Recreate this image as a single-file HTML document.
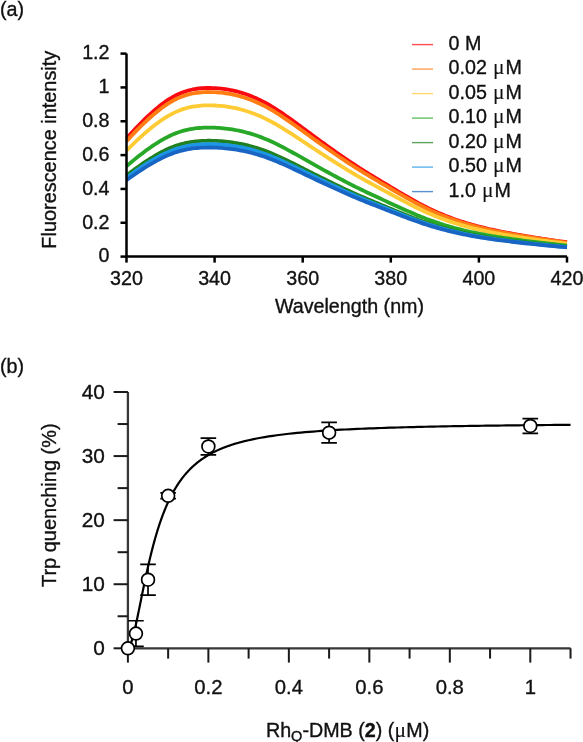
<!DOCTYPE html>
<html><head><meta charset="utf-8"><style>
html,body{margin:0;padding:0;background:#fff;width:583px;height:742px;overflow:hidden;position:relative}
</style></head><body>
<svg width="583" height="742" viewBox="0 0 583 742" style="position:absolute;left:0;top:0;will-change:transform">
<g font-family="Liberation Sans, sans-serif" font-size="19.7" fill="#111" stroke="#111" stroke-width="0.35">
<polyline points="126.50,138.46 128.70,136.00 130.91,133.58 133.11,131.19 135.31,128.84 137.51,126.53 139.72,124.26 141.92,122.03 144.12,119.85 146.32,117.71 148.53,115.62 150.73,113.59 152.93,111.62 155.13,109.70 157.34,107.85 159.54,106.07 161.74,104.36 163.94,102.72 166.14,101.17 168.35,99.70 170.55,98.32 172.75,97.02 174.95,95.82 177.16,94.72 179.36,93.70 181.56,92.78 183.76,91.95 185.97,91.21 188.17,90.55 190.37,89.98 192.57,89.49 194.78,89.08 196.98,88.74 199.18,88.47 201.38,88.26 203.59,88.11 205.79,88.02 207.99,87.97 210.19,87.98 212.40,88.04 214.60,88.13 216.80,88.27 219.00,88.46 221.21,88.68 223.41,88.94 225.61,89.25 227.81,89.60 230.02,89.99 232.22,90.43 234.42,90.91 236.62,91.44 238.83,92.01 241.03,92.64 243.23,93.31 245.44,94.03 247.64,94.80 249.84,95.62 252.04,96.48 254.25,97.40 256.45,98.36 258.65,99.38 260.85,100.45 263.06,101.57 265.26,102.74 267.46,103.96 269.66,105.23 271.87,106.54 274.07,107.90 276.27,109.29 278.47,110.72 280.67,112.18 282.88,113.67 285.08,115.19 287.28,116.73 289.49,118.30 291.69,119.88 293.89,121.48 296.09,123.09 298.30,124.70 300.50,126.33 302.70,127.96 304.90,129.60 307.11,131.23 309.31,132.86 311.51,134.49 313.71,136.11 315.91,137.73 318.12,139.34 320.32,140.94 322.52,142.53 324.73,144.11 326.93,145.69 329.13,147.27 331.33,148.83 333.53,150.39 335.74,151.94 337.94,153.49 340.14,155.02 342.35,156.54 344.55,158.05 346.75,159.55 348.95,161.03 351.15,162.50 353.36,163.96 355.56,165.40 357.76,166.83 359.97,168.24 362.17,169.64 364.37,171.02 366.57,172.39 368.77,173.75 370.98,175.10 373.18,176.44 375.38,177.78 377.58,179.11 379.79,180.44 381.99,181.77 384.19,183.10 386.39,184.42 388.60,185.75 390.80,187.07 393.00,188.39 395.20,189.71 397.41,191.02 399.61,192.33 401.81,193.63 404.01,194.93 406.22,196.22 408.42,197.49 410.62,198.75 412.82,200.00 415.03,201.23 417.23,202.44 419.43,203.63 421.63,204.80 423.84,205.94 426.04,207.06 428.24,208.15 430.44,209.21 432.65,210.25 434.85,211.25 437.05,212.24 439.25,213.19 441.46,214.12 443.66,215.03 445.86,215.91 448.06,216.77 450.27,217.61 452.47,218.42 454.67,219.21 456.88,219.97 459.08,220.72 461.28,221.45 463.48,222.15 465.69,222.84 467.89,223.51 470.09,224.15 472.29,224.79 474.50,225.40 476.70,226.00 478.90,226.58 481.10,227.14 483.31,227.68 485.51,228.22 487.71,228.73 489.91,229.23 492.12,229.72 494.32,230.20 496.52,230.66 498.72,231.11 500.93,231.56 503.13,231.99 505.33,232.41 507.53,232.83 509.74,233.24 511.94,233.64 514.14,234.04 516.34,234.43 518.55,234.82 520.75,235.20 522.95,235.58 525.15,235.96 527.36,236.33 529.56,236.70 531.76,237.06 533.96,237.42 536.16,237.78 538.37,238.13 540.57,238.48 542.77,238.82 544.97,239.16 547.18,239.49 549.38,239.82 551.58,240.14 553.78,240.46 555.99,240.77 558.19,241.08 560.39,241.38 562.60,241.68 564.80,241.97 567.00,242.25" fill="none" stroke="#fa0a10" stroke-width="3.8" stroke-linejoin="round"/>
<polyline points="126.50,141.29 128.70,138.90 130.91,136.53 133.11,134.20 135.31,131.91 137.51,129.66 139.72,127.44 141.92,125.26 144.12,123.13 146.32,121.04 148.53,119.01 150.73,117.02 152.93,115.10 155.13,113.23 157.34,111.42 159.54,109.68 161.74,108.01 163.94,106.42 166.14,104.90 168.35,103.47 170.55,102.12 172.75,100.85 174.95,99.68 177.16,98.60 179.36,97.61 181.56,96.71 183.76,95.90 185.97,95.18 188.17,94.54 190.37,93.98 192.57,93.50 194.78,93.10 196.98,92.77 199.18,92.50 201.38,92.30 203.59,92.15 205.79,92.06 207.99,92.02 210.19,92.03 212.40,92.08 214.60,92.18 216.80,92.31 219.00,92.49 221.21,92.71 223.41,92.97 225.61,93.27 227.81,93.61 230.02,93.99 232.22,94.41 234.42,94.88 236.62,95.40 238.83,95.96 241.03,96.57 243.23,97.23 245.44,97.93 247.64,98.68 249.84,99.48 252.04,100.33 254.25,101.22 256.45,102.16 258.65,103.15 260.85,104.20 263.06,105.29 265.26,106.43 267.46,107.62 269.66,108.86 271.87,110.14 274.07,111.47 276.27,112.83 278.47,114.22 280.67,115.65 282.88,117.11 285.08,118.59 287.28,120.09 289.49,121.62 291.69,123.16 293.89,124.72 296.09,126.29 298.30,127.87 300.50,129.46 302.70,131.05 304.90,132.64 307.11,134.24 309.31,135.83 311.51,137.42 313.71,139.01 315.91,140.58 318.12,142.15 320.32,143.71 322.52,145.27 324.73,146.81 326.93,148.36 329.13,149.89 331.33,151.42 333.53,152.94 335.74,154.45 337.94,155.96 340.14,157.46 342.35,158.94 344.55,160.42 346.75,161.88 348.95,163.33 351.15,164.76 353.36,166.18 355.56,167.59 357.76,168.98 359.97,170.36 362.17,171.72 364.37,173.08 366.57,174.41 368.77,175.74 370.98,177.06 373.18,178.37 375.38,179.67 377.58,180.97 379.79,182.27 381.99,183.57 384.19,184.86 386.39,186.16 388.60,187.45 390.80,188.74 393.00,190.03 395.20,191.31 397.41,192.59 399.61,193.87 401.81,195.14 404.01,196.41 406.22,197.67 408.42,198.91 410.62,200.14 412.82,201.36 415.03,202.56 417.23,203.74 419.43,204.90 421.63,206.04 423.84,207.16 426.04,208.25 428.24,209.31 430.44,210.35 432.65,211.36 434.85,212.34 437.05,213.30 439.25,214.23 441.46,215.14 443.66,216.03 445.86,216.89 448.06,217.73 450.27,218.54 452.47,219.33 454.67,220.10 456.88,220.85 459.08,221.58 461.28,222.29 463.48,222.98 465.69,223.65 467.89,224.30 470.09,224.93 472.29,225.55 474.50,226.15 476.70,226.73 478.90,227.30 481.10,227.85 483.31,228.38 485.51,228.90 487.71,229.40 489.91,229.89 492.12,230.37 494.32,230.83 496.52,231.28 498.72,231.72 500.93,232.16 503.13,232.58 505.33,232.99 507.53,233.40 509.74,233.80 511.94,234.19 514.14,234.58 516.34,234.96 518.55,235.34 520.75,235.72 522.95,236.09 525.15,236.45 527.36,236.82 529.56,237.18 531.76,237.53 533.96,237.88 536.16,238.23 538.37,238.57 540.57,238.91 542.77,239.25 544.97,239.58 547.18,239.90 549.38,240.22 551.58,240.54 553.78,240.84 555.99,241.15 558.19,241.45 560.39,241.74 562.60,242.03 564.80,242.32 567.00,242.60" fill="none" stroke="#ff7d12" stroke-width="3.8" stroke-linejoin="round"/>
<polyline points="126.50,150.63 128.70,148.42 130.91,146.25 133.11,144.11 135.31,142.00 137.51,139.93 139.72,137.89 141.92,135.89 144.12,133.93 146.32,132.02 148.53,130.15 150.73,128.32 152.93,126.55 155.13,124.83 157.34,123.17 159.54,121.57 161.74,120.04 163.94,118.57 166.14,117.18 168.35,115.86 170.55,114.62 172.75,113.46 174.95,112.38 177.16,111.39 179.36,110.48 181.56,109.65 183.76,108.91 185.97,108.24 188.17,107.65 190.37,107.14 192.57,106.70 194.78,106.33 196.98,106.03 199.18,105.79 201.38,105.60 203.59,105.46 205.79,105.38 207.99,105.34 210.19,105.35 212.40,105.40 214.60,105.49 216.80,105.61 219.00,105.77 221.21,105.98 223.41,106.21 225.61,106.49 227.81,106.80 230.02,107.15 232.22,107.54 234.42,107.97 236.62,108.45 238.83,108.97 241.03,109.52 243.23,110.13 245.44,110.77 247.64,111.46 249.84,112.20 252.04,112.97 254.25,113.80 256.45,114.66 258.65,115.57 260.85,116.53 263.06,117.54 265.26,118.59 267.46,119.68 269.66,120.82 271.87,122.00 274.07,123.22 276.27,124.47 278.47,125.75 280.67,127.06 282.88,128.40 285.08,129.76 287.28,131.14 289.49,132.54 291.69,133.96 293.89,135.39 296.09,136.84 298.30,138.29 300.50,139.75 302.70,141.21 304.90,142.68 307.11,144.14 309.31,145.61 311.51,147.07 313.71,148.52 315.91,149.97 318.12,151.42 320.32,152.85 322.52,154.28 324.73,155.70 326.93,157.12 329.13,158.53 331.33,159.93 333.53,161.33 335.74,162.72 337.94,164.11 340.14,165.48 342.35,166.85 344.55,168.20 346.75,169.54 348.95,170.88 351.15,172.19 353.36,173.50 355.56,174.79 357.76,176.07 359.97,177.34 362.17,178.59 364.37,179.84 366.57,181.07 368.77,182.28 370.98,183.50 373.18,184.70 375.38,185.90 377.58,187.09 379.79,188.29 381.99,189.48 384.19,190.67 386.39,191.86 388.60,193.04 390.80,194.23 393.00,195.41 395.20,196.60 397.41,197.77 399.61,198.95 401.81,200.12 404.01,201.28 406.22,202.44 408.42,203.58 410.62,204.71 412.82,205.83 415.03,206.93 417.23,208.02 419.43,209.09 421.63,210.14 423.84,211.16 426.04,212.16 428.24,213.14 430.44,214.09 432.65,215.02 434.85,215.92 437.05,216.81 439.25,217.66 441.46,218.50 443.66,219.31 445.86,220.10 448.06,220.87 450.27,221.62 452.47,222.35 454.67,223.06 456.88,223.75 459.08,224.42 461.28,225.07 463.48,225.70 465.69,226.32 467.89,226.91 470.09,227.50 472.29,228.06 474.50,228.61 476.70,229.15 478.90,229.67 481.10,230.17 483.31,230.66 485.51,231.14 487.71,231.60 489.91,232.05 492.12,232.49 494.32,232.92 496.52,233.33 498.72,233.74 500.93,234.13 503.13,234.52 505.33,234.90 507.53,235.28 509.74,235.64 511.94,236.01 514.14,236.36 516.34,236.71 518.55,237.06 520.75,237.41 522.95,237.75 525.15,238.08 527.36,238.42 529.56,238.75 531.76,239.08 533.96,239.40 536.16,239.72 538.37,240.03 540.57,240.34 542.77,240.65 544.97,240.95 547.18,241.25 549.38,241.55 551.58,241.84 553.78,242.12 555.99,242.40 558.19,242.68 560.39,242.95 562.60,243.21 564.80,243.47 567.00,243.73" fill="none" stroke="#ffcb35" stroke-width="3.8" stroke-linejoin="round"/>
<polyline points="126.50,166.22 128.70,164.34 130.91,162.49 133.11,160.66 135.31,158.87 137.51,157.10 139.72,155.36 141.92,153.66 144.12,151.99 146.32,150.35 148.53,148.75 150.73,147.20 152.93,145.69 155.13,144.22 157.34,142.81 159.54,141.44 161.74,140.14 163.94,138.89 166.14,137.70 168.35,136.57 170.55,135.51 172.75,134.52 174.95,133.61 177.16,132.76 179.36,131.98 181.56,131.28 183.76,130.64 185.97,130.07 188.17,129.57 190.37,129.14 192.57,128.76 194.78,128.45 196.98,128.19 199.18,127.98 201.38,127.82 203.59,127.71 205.79,127.63 207.99,127.60 210.19,127.61 212.40,127.65 214.60,127.72 216.80,127.83 219.00,127.97 221.21,128.14 223.41,128.34 225.61,128.58 227.81,128.84 230.02,129.14 232.22,129.48 234.42,129.85 236.62,130.25 238.83,130.69 241.03,131.17 243.23,131.68 245.44,132.23 247.64,132.82 249.84,133.45 252.04,134.11 254.25,134.81 256.45,135.55 258.65,136.33 260.85,137.14 263.06,138.00 265.26,138.90 267.46,139.83 269.66,140.80 271.87,141.81 274.07,142.84 276.27,143.91 278.47,145.00 280.67,146.12 282.88,147.26 285.08,148.42 287.28,149.60 289.49,150.80 291.69,152.01 293.89,153.23 296.09,154.46 298.30,155.70 300.50,156.94 302.70,158.19 304.90,159.44 307.11,160.69 309.31,161.94 311.51,163.19 313.71,164.43 315.91,165.66 318.12,166.89 320.32,168.12 322.52,169.34 324.73,170.55 326.93,171.76 329.13,172.96 331.33,174.16 333.53,175.35 335.74,176.54 337.94,177.72 340.14,178.89 342.35,180.05 344.55,181.21 346.75,182.36 348.95,183.49 351.15,184.62 353.36,185.73 355.56,186.83 357.76,187.92 359.97,189.00 362.17,190.07 364.37,191.13 366.57,192.18 368.77,193.22 370.98,194.25 373.18,195.28 375.38,196.30 377.58,197.32 379.79,198.34 381.99,199.36 384.19,200.37 386.39,201.38 388.60,202.40 390.80,203.41 393.00,204.42 395.20,205.43 397.41,206.43 399.61,207.43 401.81,208.43 404.01,209.42 406.22,210.41 408.42,211.38 410.62,212.35 412.82,213.30 415.03,214.24 417.23,215.17 419.43,216.08 421.63,216.97 423.84,217.85 426.04,218.70 428.24,219.54 430.44,220.35 432.65,221.14 434.85,221.91 437.05,222.66 439.25,223.39 441.46,224.11 443.66,224.80 445.86,225.48 448.06,226.13 450.27,226.77 452.47,227.39 454.67,227.99 456.88,228.58 459.08,229.15 461.28,229.71 463.48,230.25 465.69,230.77 467.89,231.28 470.09,231.78 472.29,232.26 474.50,232.73 476.70,233.19 478.90,233.63 481.10,234.06 483.31,234.48 485.51,234.89 487.71,235.28 489.91,235.66 492.12,236.04 494.32,236.40 496.52,236.76 498.72,237.10 500.93,237.44 503.13,237.77 505.33,238.10 507.53,238.41 509.74,238.73 511.94,239.04 514.14,239.34 516.34,239.64 518.55,239.94 520.75,240.23 522.95,240.52 525.15,240.81 527.36,241.09 529.56,241.38 531.76,241.65 533.96,241.93 536.16,242.20 538.37,242.47 540.57,242.74 542.77,243.00 544.97,243.26 547.18,243.51 549.38,243.76 551.58,244.01 553.78,244.25 555.99,244.49 558.19,244.72 560.39,244.96 562.60,245.18 564.80,245.41 567.00,245.63" fill="none" stroke="#28a828" stroke-width="3.8" stroke-linejoin="round"/>
<polyline points="126.50,175.44 128.70,173.75 130.91,172.08 133.11,170.45 135.31,168.83 137.51,167.24 139.72,165.68 141.92,164.15 144.12,162.65 146.32,161.18 148.53,159.75 150.73,158.35 152.93,157.00 155.13,155.68 157.34,154.41 159.54,153.19 161.74,152.01 163.94,150.89 166.14,149.82 168.35,148.81 170.55,147.86 172.75,146.97 174.95,146.15 177.16,145.39 179.36,144.69 181.56,144.05 183.76,143.48 185.97,142.97 188.17,142.52 190.37,142.13 192.57,141.80 194.78,141.51 196.98,141.28 199.18,141.09 201.38,140.95 203.59,140.85 205.79,140.78 207.99,140.75 210.19,140.76 212.40,140.80 214.60,140.86 216.80,140.96 219.00,141.09 221.21,141.24 223.41,141.42 225.61,141.63 227.81,141.87 230.02,142.14 232.22,142.44 234.42,142.77 236.62,143.13 238.83,143.53 241.03,143.96 243.23,144.42 245.44,144.91 247.64,145.44 249.84,146.00 252.04,146.60 254.25,147.23 256.45,147.89 258.65,148.59 260.85,149.32 263.06,150.09 265.26,150.90 267.46,151.74 269.66,152.61 271.87,153.51 274.07,154.44 276.27,155.40 278.47,156.38 280.67,157.39 282.88,158.41 285.08,159.45 287.28,160.51 289.49,161.59 291.69,162.67 293.89,163.77 296.09,164.88 298.30,165.99 300.50,167.11 302.70,168.23 304.90,169.35 307.11,170.47 309.31,171.59 311.51,172.71 313.71,173.83 315.91,174.94 318.12,176.04 320.32,177.14 322.52,178.23 324.73,179.32 326.93,180.41 329.13,181.49 331.33,182.56 333.53,183.63 335.74,184.70 337.94,185.76 340.14,186.81 342.35,187.86 344.55,188.90 346.75,189.93 348.95,190.94 351.15,191.96 353.36,192.96 355.56,193.95 357.76,194.93 359.97,195.90 362.17,196.86 364.37,197.81 366.57,198.75 368.77,199.68 370.98,200.61 373.18,201.53 375.38,202.45 377.58,203.37 379.79,204.28 381.99,205.19 384.19,206.10 386.39,207.01 388.60,207.92 390.80,208.83 393.00,209.74 395.20,210.64 397.41,211.55 399.61,212.45 401.81,213.34 404.01,214.23 406.22,215.12 408.42,215.99 410.62,216.86 412.82,217.72 415.03,218.56 417.23,219.39 419.43,220.21 421.63,221.01 423.84,221.80 426.04,222.57 428.24,223.31 430.44,224.04 432.65,224.75 434.85,225.45 437.05,226.12 439.25,226.78 441.46,227.42 443.66,228.04 445.86,228.65 448.06,229.24 450.27,229.81 452.47,230.37 454.67,230.91 456.88,231.44 459.08,231.95 461.28,232.45 463.48,232.93 465.69,233.41 467.89,233.86 470.09,234.31 472.29,234.74 474.50,235.17 476.70,235.57 478.90,235.97 481.10,236.36 483.31,236.74 485.51,237.10 487.71,237.45 489.91,237.80 492.12,238.13 494.32,238.46 496.52,238.78 498.72,239.09 500.93,239.39 503.13,239.69 505.33,239.98 507.53,240.27 509.74,240.55 511.94,240.83 514.14,241.10 516.34,241.37 518.55,241.64 520.75,241.90 522.95,242.16 525.15,242.42 527.36,242.67 529.56,242.93 531.76,243.18 533.96,243.43 536.16,243.67 538.37,243.91 540.57,244.15 542.77,244.39 544.97,244.62 547.18,244.85 549.38,245.07 551.58,245.29 553.78,245.51 555.99,245.72 558.19,245.94 560.39,246.14 562.60,246.35 564.80,246.55 567.00,246.74" fill="none" stroke="#1f801f" stroke-width="3.8" stroke-linejoin="round"/>
<polyline points="126.50,177.80 128.70,176.16 130.91,174.55 133.11,172.95 135.31,171.39 137.51,169.85 139.72,168.33 141.92,166.84 144.12,165.39 146.32,163.96 148.53,162.57 150.73,161.21 152.93,159.90 155.13,158.62 157.34,157.39 159.54,156.20 161.74,155.05 163.94,153.96 166.14,152.93 168.35,151.95 170.55,151.03 172.75,150.16 174.95,149.36 177.16,148.62 179.36,147.95 181.56,147.33 183.76,146.78 185.97,146.28 188.17,145.85 190.37,145.47 192.57,145.14 194.78,144.86 196.98,144.64 199.18,144.46 201.38,144.32 203.59,144.22 205.79,144.15 207.99,144.13 210.19,144.13 212.40,144.17 214.60,144.23 216.80,144.33 219.00,144.45 221.21,144.60 223.41,144.77 225.61,144.98 227.81,145.21 230.02,145.47 232.22,145.76 234.42,146.08 236.62,146.44 238.83,146.82 241.03,147.24 243.23,147.68 245.44,148.17 247.64,148.68 249.84,149.22 252.04,149.80 254.25,150.41 256.45,151.06 258.65,151.73 260.85,152.45 263.06,153.19 265.26,153.97 267.46,154.79 269.66,155.63 271.87,156.51 274.07,157.42 276.27,158.35 278.47,159.30 280.67,160.27 282.88,161.27 285.08,162.28 287.28,163.31 289.49,164.35 291.69,165.41 293.89,166.47 296.09,167.55 298.30,168.63 300.50,169.71 302.70,170.80 304.90,171.89 307.11,172.98 309.31,174.07 311.51,175.15 313.71,176.24 315.91,177.31 318.12,178.39 320.32,179.45 322.52,180.52 324.73,181.57 326.93,182.63 329.13,183.67 331.33,184.72 333.53,185.76 335.74,186.79 337.94,187.82 340.14,188.84 342.35,189.86 344.55,190.87 346.75,191.87 348.95,192.86 351.15,193.84 353.36,194.81 355.56,195.77 357.76,196.72 359.97,197.66 362.17,198.60 364.37,199.52 366.57,200.43 368.77,201.34 370.98,202.24 373.18,203.14 375.38,204.03 377.58,204.92 379.79,205.80 381.99,206.69 384.19,207.57 386.39,208.46 388.60,209.34 390.80,210.22 393.00,211.10 395.20,211.98 397.41,212.86 399.61,213.73 401.81,214.60 404.01,215.47 406.22,216.32 408.42,217.17 410.62,218.02 412.82,218.85 415.03,219.67 417.23,220.48 419.43,221.27 421.63,222.05 423.84,222.81 426.04,223.56 428.24,224.28 430.44,224.99 432.65,225.68 434.85,226.35 437.05,227.01 439.25,227.65 441.46,228.27 443.66,228.87 445.86,229.46 448.06,230.03 450.27,230.59 452.47,231.13 454.67,231.66 456.88,232.17 459.08,232.67 461.28,233.15 463.48,233.62 465.69,234.08 467.89,234.53 470.09,234.96 472.29,235.38 474.50,235.79 476.70,236.19 478.90,236.57 481.10,236.95 483.31,237.31 485.51,237.67 487.71,238.01 489.91,238.35 492.12,238.67 494.32,238.99 496.52,239.30 498.72,239.60 500.93,239.90 503.13,240.18 505.33,240.47 507.53,240.74 509.74,241.02 511.94,241.29 514.14,241.55 516.34,241.81 518.55,242.07 520.75,242.33 522.95,242.58 525.15,242.83 527.36,243.08 529.56,243.33 531.76,243.57 533.96,243.81 536.16,244.05 538.37,244.28 540.57,244.51 542.77,244.74 544.97,244.97 547.18,245.19 549.38,245.41 551.58,245.62 553.78,245.83 555.99,246.04 558.19,246.25 560.39,246.45 562.60,246.65 564.80,246.84 567.00,247.03" fill="none" stroke="#1e96e6" stroke-width="3.8" stroke-linejoin="round"/>
<polyline points="126.50,180.16 128.70,178.57 130.91,177.01 133.11,175.46 135.31,173.94 137.51,172.45 139.72,170.98 141.92,169.54 144.12,168.12 146.32,166.74 148.53,165.39 150.73,164.07 152.93,162.80 155.13,161.56 157.34,160.36 159.54,159.21 161.74,158.10 163.94,157.04 166.14,156.04 168.35,155.09 170.55,154.19 172.75,153.35 174.95,152.58 177.16,151.86 179.36,151.20 181.56,150.61 183.76,150.07 185.97,149.59 188.17,149.17 190.37,148.80 192.57,148.48 194.78,148.21 196.98,147.99 199.18,147.82 201.38,147.68 203.59,147.59 205.79,147.53 207.99,147.50 210.19,147.50 212.40,147.54 214.60,147.60 216.80,147.69 219.00,147.81 221.21,147.96 223.41,148.13 225.61,148.33 227.81,148.55 230.02,148.80 232.22,149.09 234.42,149.40 236.62,149.74 238.83,150.11 241.03,150.52 243.23,150.95 245.44,151.42 247.64,151.91 249.84,152.44 252.04,153.00 254.25,153.60 256.45,154.22 258.65,154.88 260.85,155.57 263.06,156.29 265.26,157.05 267.46,157.84 269.66,158.66 271.87,159.51 274.07,160.39 276.27,161.29 278.47,162.22 280.67,163.16 282.88,164.13 285.08,165.11 287.28,166.11 289.49,167.12 291.69,168.14 293.89,169.17 296.09,170.22 298.30,171.26 300.50,172.32 302.70,173.37 304.90,174.43 307.11,175.49 309.31,176.54 311.51,177.60 313.71,178.65 315.91,179.69 318.12,180.73 320.32,181.77 322.52,182.80 324.73,183.82 326.93,184.84 329.13,185.86 331.33,186.87 333.53,187.88 335.74,188.89 337.94,189.88 340.14,190.88 342.35,191.86 344.55,192.84 346.75,193.81 348.95,194.77 351.15,195.72 353.36,196.66 355.56,197.59 357.76,198.52 359.97,199.43 362.17,200.34 364.37,201.23 366.57,202.12 368.77,203.00 370.98,203.87 373.18,204.74 375.38,205.60 377.58,206.47 379.79,207.33 381.99,208.19 384.19,209.04 386.39,209.90 388.60,210.76 390.80,211.61 393.00,212.47 395.20,213.32 397.41,214.17 399.61,215.02 401.81,215.86 404.01,216.70 406.22,217.53 408.42,218.36 410.62,219.17 412.82,219.98 415.03,220.78 417.23,221.56 419.43,222.33 421.63,223.09 423.84,223.83 426.04,224.55 428.24,225.25 430.44,225.94 432.65,226.61 434.85,227.26 437.05,227.90 439.25,228.52 441.46,229.12 443.66,229.71 445.86,230.28 448.06,230.83 450.27,231.37 452.47,231.90 454.67,232.41 456.88,232.90 459.08,233.39 461.28,233.86 463.48,234.31 465.69,234.76 467.89,235.19 470.09,235.61 472.29,236.02 474.50,236.41 476.70,236.80 478.90,237.17 481.10,237.54 483.31,237.89 485.51,238.24 487.71,238.57 489.91,238.89 492.12,239.21 494.32,239.52 496.52,239.82 498.72,240.11 500.93,240.40 503.13,240.68 505.33,240.95 507.53,241.22 509.74,241.48 511.94,241.75 514.14,242.00 516.34,242.26 518.55,242.51 520.75,242.76 522.95,243.00 525.15,243.24 527.36,243.49 529.56,243.72 531.76,243.96 533.96,244.19 536.16,244.42 538.37,244.65 540.57,244.87 542.77,245.10 544.97,245.31 547.18,245.53 549.38,245.74 551.58,245.95 553.78,246.16 555.99,246.36 558.19,246.56 560.39,246.75 562.60,246.94 564.80,247.13 567.00,247.32" fill="none" stroke="#1865c4" stroke-width="3.8" stroke-linejoin="round"/>
<path d="M126.50,53.6 V256.6 H567.0" fill="none" stroke="#000" stroke-width="2.5"/>
<line x1="120.5" y1="256.60" x2="126.5" y2="256.60" stroke="#000" stroke-width="2.5"/>
<text x="109.5" y="262.40" text-anchor="end">0</text>
<line x1="120.5" y1="222.77" x2="126.5" y2="222.77" stroke="#000" stroke-width="2.5"/>
<text x="109.5" y="228.57" text-anchor="end">0.2</text>
<line x1="120.5" y1="188.93" x2="126.5" y2="188.93" stroke="#000" stroke-width="2.5"/>
<text x="109.5" y="194.73" text-anchor="end">0.4</text>
<line x1="120.5" y1="155.10" x2="126.5" y2="155.10" stroke="#000" stroke-width="2.5"/>
<text x="109.5" y="160.90" text-anchor="end">0.6</text>
<line x1="120.5" y1="121.27" x2="126.5" y2="121.27" stroke="#000" stroke-width="2.5"/>
<text x="109.5" y="127.07" text-anchor="end">0.8</text>
<line x1="120.5" y1="87.43" x2="126.5" y2="87.43" stroke="#000" stroke-width="2.5"/>
<text x="109.5" y="93.23" text-anchor="end">1</text>
<line x1="120.5" y1="53.60" x2="126.5" y2="53.60" stroke="#000" stroke-width="2.5"/>
<text x="109.5" y="59.40" text-anchor="end">1.2</text>
<line x1="126.50" y1="256.6" x2="126.50" y2="262.6" stroke="#000" stroke-width="2.5"/>
<text x="126.50" y="284.8" text-anchor="middle">320</text>
<line x1="214.60" y1="256.6" x2="214.60" y2="262.6" stroke="#000" stroke-width="2.5"/>
<text x="214.60" y="284.8" text-anchor="middle">340</text>
<line x1="302.70" y1="256.6" x2="302.70" y2="262.6" stroke="#000" stroke-width="2.5"/>
<text x="302.70" y="284.8" text-anchor="middle">360</text>
<line x1="390.80" y1="256.6" x2="390.80" y2="262.6" stroke="#000" stroke-width="2.5"/>
<text x="390.80" y="284.8" text-anchor="middle">380</text>
<line x1="478.90" y1="256.6" x2="478.90" y2="262.6" stroke="#000" stroke-width="2.5"/>
<text x="478.90" y="284.8" text-anchor="middle">400</text>
<line x1="567.00" y1="256.6" x2="567.00" y2="262.6" stroke="#000" stroke-width="2.5"/>
<text x="567.00" y="284.8" text-anchor="middle">420</text>
<text x="349.5" y="313" text-anchor="middle">Wavelength (nm)</text>
<text transform="translate(56.3,149.7) rotate(-90)" text-anchor="middle" font-size="19.9">Fluorescence intensity</text>
<text x="0" y="15.8">(a)</text>
<line x1="412" y1="44.60" x2="433" y2="44.60" stroke="#fa0a10" stroke-width="1.4" stroke-opacity="0.72"/>
<text x="448.6" y="49.90">0 M</text>
<line x1="412" y1="69.10" x2="433" y2="69.10" stroke="#ff7d12" stroke-width="1.4" stroke-opacity="0.72"/>
<text x="448.6" y="74.40">0.02 <tspan font-family="Liberation Serif, serif" font-size="21.5" dx="0.6" stroke-width="0.1">μ</tspan><tspan dx="0.9">M</tspan></text>
<line x1="412" y1="93.60" x2="433" y2="93.60" stroke="#ffcb35" stroke-width="1.4" stroke-opacity="0.72"/>
<text x="448.6" y="98.90">0.05 <tspan font-family="Liberation Serif, serif" font-size="21.5" dx="0.6" stroke-width="0.1">μ</tspan><tspan dx="0.9">M</tspan></text>
<line x1="412" y1="118.10" x2="433" y2="118.10" stroke="#28a828" stroke-width="1.4" stroke-opacity="0.72"/>
<text x="448.6" y="123.40">0.10 <tspan font-family="Liberation Serif, serif" font-size="21.5" dx="0.6" stroke-width="0.1">μ</tspan><tspan dx="0.9">M</tspan></text>
<line x1="412" y1="142.60" x2="433" y2="142.60" stroke="#1f801f" stroke-width="1.4" stroke-opacity="0.72"/>
<text x="448.6" y="147.90">0.20 <tspan font-family="Liberation Serif, serif" font-size="21.5" dx="0.6" stroke-width="0.1">μ</tspan><tspan dx="0.9">M</tspan></text>
<line x1="412" y1="167.10" x2="433" y2="167.10" stroke="#1e96e6" stroke-width="1.4" stroke-opacity="0.72"/>
<text x="448.6" y="172.40">0.50 <tspan font-family="Liberation Serif, serif" font-size="21.5" dx="0.6" stroke-width="0.1">μ</tspan><tspan dx="0.9">M</tspan></text>
<line x1="412" y1="191.60" x2="433" y2="191.60" stroke="#1865c4" stroke-width="1.4" stroke-opacity="0.72"/>
<text x="448.6" y="196.90">1.0 <tspan font-family="Liberation Serif, serif" font-size="21.5" dx="0.6" stroke-width="0.1">μ</tspan><tspan dx="0.9">M</tspan></text>
<path d="M127.9,392.0 V648.3 H570.54" fill="none" stroke="#383838" stroke-width="2.3"/>
<line x1="113.60000000000001" y1="648.30" x2="127.9" y2="648.30" stroke="#1a1a1a" stroke-width="2"/>
<text x="104.8" y="655.00" text-anchor="end" font-size="20.8">0</text>
<line x1="117.60000000000001" y1="616.26" x2="127.9" y2="616.26" stroke="#1a1a1a" stroke-width="2"/>
<line x1="113.60000000000001" y1="584.22" x2="127.9" y2="584.22" stroke="#1a1a1a" stroke-width="2"/>
<text x="104.8" y="590.92" text-anchor="end" font-size="20.8">10</text>
<line x1="117.60000000000001" y1="552.19" x2="127.9" y2="552.19" stroke="#1a1a1a" stroke-width="2"/>
<line x1="113.60000000000001" y1="520.15" x2="127.9" y2="520.15" stroke="#1a1a1a" stroke-width="2"/>
<text x="104.8" y="526.85" text-anchor="end" font-size="20.8">20</text>
<line x1="117.60000000000001" y1="488.11" x2="127.9" y2="488.11" stroke="#1a1a1a" stroke-width="2"/>
<line x1="113.60000000000001" y1="456.07" x2="127.9" y2="456.07" stroke="#1a1a1a" stroke-width="2"/>
<text x="104.8" y="462.77" text-anchor="end" font-size="20.8">30</text>
<line x1="117.60000000000001" y1="424.04" x2="127.9" y2="424.04" stroke="#1a1a1a" stroke-width="2"/>
<line x1="113.60000000000001" y1="392.00" x2="127.9" y2="392.00" stroke="#1a1a1a" stroke-width="2"/>
<text x="104.8" y="398.70" text-anchor="end" font-size="20.8">40</text>
<line x1="127.90" y1="648.3" x2="127.90" y2="662.5999999999999" stroke="#1a1a1a" stroke-width="2"/>
<text x="127.90" y="693.6" text-anchor="middle" font-size="20.3">0</text>
<line x1="168.14" y1="648.3" x2="168.14" y2="658.5999999999999" stroke="#1a1a1a" stroke-width="2"/>
<line x1="208.38" y1="648.3" x2="208.38" y2="662.5999999999999" stroke="#1a1a1a" stroke-width="2"/>
<text x="208.38" y="693.6" text-anchor="middle" font-size="20.3">0.2</text>
<line x1="248.62" y1="648.3" x2="248.62" y2="658.5999999999999" stroke="#1a1a1a" stroke-width="2"/>
<line x1="288.86" y1="648.3" x2="288.86" y2="662.5999999999999" stroke="#1a1a1a" stroke-width="2"/>
<text x="288.86" y="693.6" text-anchor="middle" font-size="20.3">0.4</text>
<line x1="329.10" y1="648.3" x2="329.10" y2="658.5999999999999" stroke="#1a1a1a" stroke-width="2"/>
<line x1="369.34" y1="648.3" x2="369.34" y2="662.5999999999999" stroke="#1a1a1a" stroke-width="2"/>
<text x="369.34" y="693.6" text-anchor="middle" font-size="20.3">0.6</text>
<line x1="409.58" y1="648.3" x2="409.58" y2="658.5999999999999" stroke="#1a1a1a" stroke-width="2"/>
<line x1="449.82" y1="648.3" x2="449.82" y2="662.5999999999999" stroke="#1a1a1a" stroke-width="2"/>
<text x="449.82" y="693.6" text-anchor="middle" font-size="20.3">0.8</text>
<line x1="490.06" y1="648.3" x2="490.06" y2="658.5999999999999" stroke="#1a1a1a" stroke-width="2"/>
<line x1="530.30" y1="648.3" x2="530.30" y2="662.5999999999999" stroke="#1a1a1a" stroke-width="2"/>
<text x="530.30" y="693.6" text-anchor="middle" font-size="20.3">1</text>
<line x1="570.54" y1="648.3" x2="570.54" y2="658.5999999999999" stroke="#1a1a1a" stroke-width="2"/>
<text transform="translate(55.8,505.2) rotate(-90)" text-anchor="middle" font-size="20">Trp quenching (%)</text>
<text x="0" y="373.2">(b)</text>
<text x="347.6" y="736.5" text-anchor="middle">Rh<tspan font-size="14.5" dy="4.3">Q</tspan><tspan dy="-4.3">-DMB (</tspan><tspan font-weight="bold">2</tspan>) (<tspan font-family="Liberation Serif, serif" font-size="21.5" dx="0.3" stroke-width="0.1">μ</tspan><tspan dx="0.2">M)</tspan></text>
<polyline points="127.90,648.30 128.30,648.13 128.70,647.76 129.11,647.23 129.51,646.57 129.91,645.78 130.31,644.87 130.72,643.87 131.12,642.76 131.52,641.57 131.92,640.30 132.33,638.95 132.73,637.53 133.13,636.05 133.53,634.51 133.94,632.91 134.34,631.26 134.74,629.56 135.14,627.82 135.55,626.04 135.95,624.23 136.35,622.39 136.75,620.52 137.16,618.63 137.56,616.71 137.96,614.78 138.36,612.83 138.76,610.87 139.17,608.90 139.57,606.92 139.97,604.94 140.37,602.96 140.78,600.97 141.18,598.98 141.58,597.00 141.98,595.02 142.39,593.05 142.79,591.08 143.19,589.12 143.59,587.18 144.00,585.24 144.40,583.32 144.80,581.40 145.20,579.51 145.61,577.62 146.01,575.76 146.41,573.91 146.81,572.07 147.22,570.26 147.62,568.46 148.02,566.68 148.42,564.91 148.82,563.17 149.23,561.45 149.63,559.75 150.03,558.06 150.43,556.40 150.84,554.76 151.24,553.13 151.64,551.53 152.04,549.95 152.45,548.39 152.85,546.85 153.25,545.33 153.65,543.83 154.06,542.35 154.46,540.89 154.86,539.45 155.26,538.03 155.67,536.63 156.07,535.25 156.47,533.89 156.87,532.55 157.28,531.23 157.68,529.93 158.08,528.65 158.48,527.38 158.88,526.14 159.29,524.91 159.69,523.70 160.09,522.51 160.49,521.34 160.90,520.18 161.30,519.04 161.70,517.92 162.10,516.82 162.51,515.73 162.91,514.66 163.31,513.60 163.71,512.56 164.12,511.54 164.52,510.53 164.92,509.53 165.32,508.55 165.73,507.59 166.13,506.64 166.53,505.70 166.93,504.78 167.34,503.87 167.74,502.98 168.14,502.10 168.54,501.23 168.94,500.38 169.35,499.53 169.75,498.70 170.15,497.89 170.55,497.08 170.96,496.29 171.36,495.51 171.76,494.74 172.16,493.98 172.57,493.23 172.97,492.49 173.37,491.77 173.77,491.05 174.18,490.35 174.58,489.65 174.98,488.97 175.38,488.29 175.79,487.63 176.19,486.97 176.59,486.33 176.99,485.69 177.40,485.06 177.80,484.44 178.20,483.83 178.60,483.23 179.00,482.64 179.41,482.05 179.81,481.48 180.21,480.91 180.61,480.35 181.02,479.80 181.42,479.25 181.82,478.71 182.22,478.18 182.63,477.66 183.03,477.15 183.43,476.64 183.83,476.14 184.24,475.64 184.64,475.15 185.04,474.67 185.44,474.20 185.85,473.73 186.25,473.26 186.65,472.81 187.05,472.36 187.46,471.91 187.86,471.47 188.26,471.04 188.66,470.61 189.06,470.19 189.47,469.78 189.87,469.36 190.27,468.96 190.67,468.56 191.08,468.16 191.48,467.77 191.88,467.39 192.28,467.01 192.69,466.63 193.09,466.26 193.49,465.90 193.89,465.53 194.30,465.18 194.70,464.82 195.10,464.48 195.50,464.13 195.91,463.79 196.31,463.46 196.71,463.12 197.11,462.80 197.52,462.47 197.92,462.15 198.32,461.84 198.72,461.53 199.12,461.22 199.53,460.91 199.93,460.61 200.33,460.32 200.73,460.02 201.14,459.73 201.54,459.44 201.94,459.16 202.34,458.88 202.75,458.60 203.15,458.33 203.55,458.06 203.95,457.79 204.36,457.53 204.76,457.26 205.16,457.00 205.56,456.75 205.97,456.50 206.37,456.25 206.77,456.00 207.17,455.75 207.58,455.51 207.98,455.27 208.38,455.04 208.78,454.80 209.18,454.57 209.59,454.34 209.99,454.12 210.39,453.89 210.79,453.67 211.20,453.45 211.60,453.24 212.00,453.02 212.40,452.81 212.81,452.60 213.21,452.39 213.61,452.19 214.01,451.98 214.42,451.78 214.82,451.58 215.22,451.39 215.62,451.19 216.03,451.00 216.43,450.81 216.83,450.62 217.23,450.43 217.64,450.25 218.04,450.07 218.44,449.88 218.84,449.70 219.24,449.53 219.65,449.35 220.05,449.18 220.45,449.01 220.85,448.83 221.26,448.67 221.66,448.50 222.06,448.33 222.46,448.17 222.87,448.01 223.27,447.85 223.67,447.69 224.07,447.53 224.48,447.37 224.88,447.22 225.28,447.07 225.68,446.91 226.09,446.76 226.49,446.61 226.89,446.47 227.29,446.32 227.70,446.18 228.10,446.03 228.50,445.89 228.90,445.75 229.30,445.61 229.71,445.47 230.11,445.34 230.51,445.20 230.91,445.07 231.32,444.94 231.72,444.80 232.12,444.67 232.52,444.54 232.93,444.42 233.33,444.29 233.73,444.16 234.13,444.04 234.54,443.91 234.94,443.79 235.34,443.67 235.74,443.55 236.15,443.43 236.55,443.31 236.95,443.20 237.35,443.08 237.76,442.96 238.16,442.85 238.56,442.74 238.96,442.63 239.36,442.51 239.77,442.40 240.17,442.30 240.57,442.19 240.97,442.08 241.38,441.97 241.78,441.87 242.18,441.76 242.58,441.66 242.99,441.56 243.39,441.45 243.79,441.35 244.19,441.25 244.60,441.15 245.00,441.05 245.40,440.96 245.80,440.86 246.21,440.76 246.61,440.67 247.01,440.57 247.41,440.48 247.82,440.39 248.22,440.29 248.62,440.20 252.64,439.33 256.67,438.52 260.69,437.77 264.72,437.07 268.74,436.42 272.76,435.82 276.79,435.26 280.81,434.74 284.84,434.24 288.86,433.78 292.88,433.35 296.91,432.95 300.93,432.56 304.96,432.20 308.98,431.86 313.00,431.54 317.03,431.24 321.05,430.95 325.08,430.68 329.10,430.42 333.12,430.18 337.15,429.94 341.17,429.72 345.20,429.51 349.22,429.31 353.24,429.12 357.27,428.93 361.29,428.76 365.32,428.59 369.34,428.43 373.36,428.28 377.39,428.13 381.41,427.99 385.44,427.85 389.46,427.72 393.48,427.60 397.51,427.48 401.53,427.36 405.56,427.25 409.58,427.15 413.60,427.04 417.63,426.95 421.65,426.85 425.68,426.76 429.70,426.67 433.72,426.58 437.75,426.50 441.77,426.42 445.80,426.34 449.82,426.27 453.84,426.20 457.87,426.13 461.89,426.06 465.92,425.99 469.94,425.93 473.96,425.87 477.99,425.81 482.01,425.75 486.04,425.69 490.06,425.64 494.08,425.59 498.11,425.54 502.13,425.49 506.16,425.44 510.18,425.39 514.20,425.34 518.23,425.30 522.25,425.26 526.28,425.21 530.30,425.17 534.32,425.13 538.35,425.09 542.37,425.05 546.40,425.02 550.42,424.98 554.44,424.95 558.47,424.91 562.49,424.88 566.52,424.85 570.54,424.81" fill="none" stroke="#000" stroke-width="2.2" stroke-linejoin="round"/>
<path d="M135.95,620.75 V646.38 M128.15,620.75 H143.75 M128.15,646.38 H143.75" stroke="#000" stroke-width="1.7" fill="none"/>
<path d="M148.02,564.36 V595.12 M140.22,564.36 H155.82 M140.22,595.12 H155.82" stroke="#000" stroke-width="1.7" fill="none"/>
<path d="M168.14,492.92 V498.68 M160.34,492.92 H175.94 M160.34,498.68 H175.94" stroke="#000" stroke-width="1.7" fill="none"/>
<path d="M208.38,438.13 V454.79 M200.58,438.13 H216.18 M200.58,454.79 H216.18" stroke="#000" stroke-width="1.7" fill="none"/>
<path d="M329.10,422.44 V442.94 M321.30,422.44 H336.90 M321.30,442.94 H336.90" stroke="#000" stroke-width="1.7" fill="none"/>
<path d="M530.30,418.59 V433.33 M522.50,418.59 H538.10 M522.50,433.33 H538.10" stroke="#000" stroke-width="1.7" fill="none"/>
<circle cx="127.90" cy="648.30" r="6.4" fill="#fff" stroke="#000" stroke-width="1.7"/>
<circle cx="135.95" cy="633.56" r="6.4" fill="#fff" stroke="#000" stroke-width="1.7"/>
<circle cx="148.02" cy="579.74" r="6.4" fill="#fff" stroke="#000" stroke-width="1.7"/>
<circle cx="168.14" cy="495.80" r="6.4" fill="#fff" stroke="#000" stroke-width="1.7"/>
<circle cx="208.38" cy="446.46" r="6.4" fill="#fff" stroke="#000" stroke-width="1.7"/>
<circle cx="329.10" cy="432.69" r="6.4" fill="#fff" stroke="#000" stroke-width="1.7"/>
<circle cx="530.30" cy="425.96" r="6.4" fill="#fff" stroke="#000" stroke-width="1.7"/>
</g></svg>
</body></html>
